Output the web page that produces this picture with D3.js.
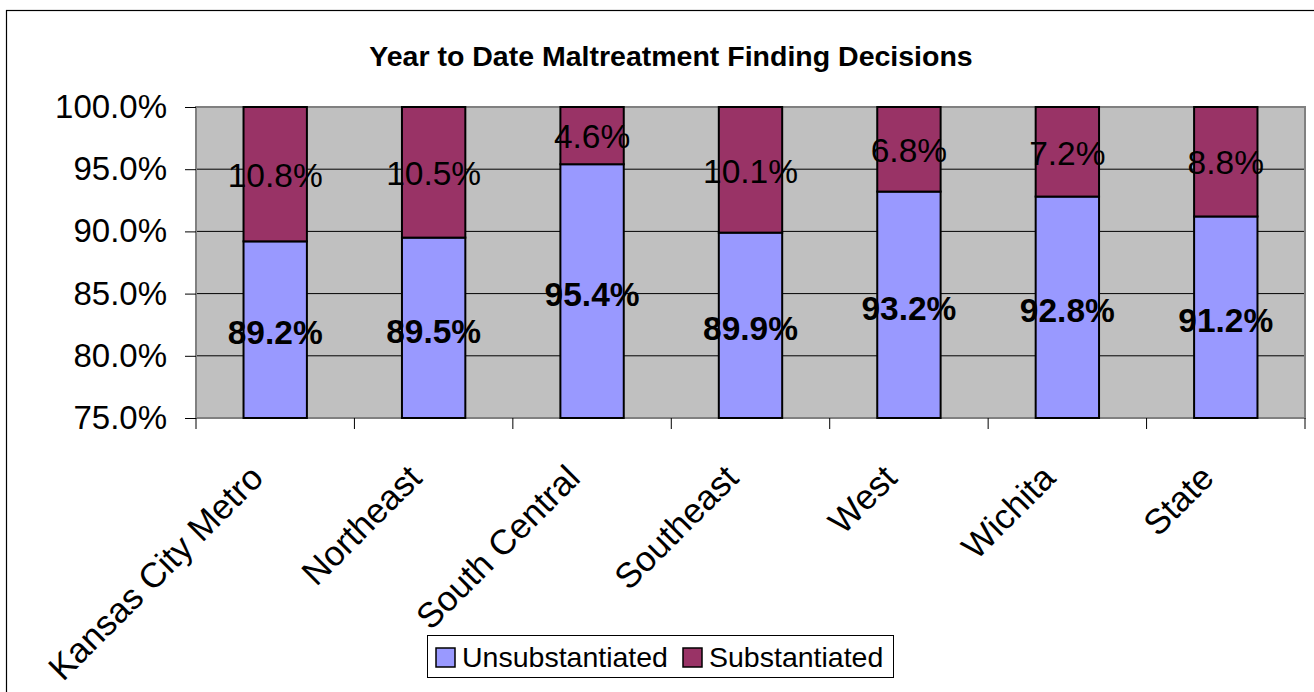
<!DOCTYPE html>
<html>
<head>
<meta charset="utf-8">
<script src="https://cdn.jsdelivr.net/npm/d3@7"></script>
<style>
  body { margin: 0; background: #fff; }
  text { font-family: Arial, "Liberation Sans", sans-serif; }
</style>
</head>
<body>
<div id="chart"></div>
<script>
// regions and the two stacked shares (percent)
var regions = ["Kansas City Metro", "Northeast", "South Central", "Southeast", "West", "Wichita", "State"];
var unsubstantiated = [89.2, 89.5, 95.4, 89.9, 93.2, 92.8, 91.2];
var substantiated = [10.8, 10.5, 4.6, 10.1, 6.8, 7.2, 8.8];
var yTicks = [75, 80, 85, 90, 95, 100];
var seriesNames = ["Unsubstantiated", "Substantiated"];
var seriesColors = ["#9999FF", "#993366"];

var svgWidth = 1314;
var svgHeight = 692;

var plot = { left: 196, right: 1305, top: 107, bottom: 418 };

var svg = d3.select("#chart")
    .append("svg")
    .attr("width", svgWidth)
    .attr("height", svgHeight);

// chart area border
svg.append("rect")
    .attr("x", 6.5)
    .attr("y", 10.5)
    .attr("width", 1330)
    .attr("height", 700)
    .attr("fill", "#fff")
    .attr("stroke", "#000")
    .attr("stroke-width", 1.2);

var rows = regions.map(function (r, i) {
    return { region: r, unsub: unsubstantiated[i], sub: substantiated[i] };
});

var xscale = d3.scaleBand()
    .domain(regions)
    .range([plot.left, plot.right])
    .paddingInner(0.6)
    .paddingOuter(0.3);

var yscale = d3.scaleLinear()
    .domain([75, 100])
    .range([plot.bottom, plot.top]);

// plot background
svg.append("rect")
    .attr("x", plot.left)
    .attr("y", plot.top)
    .attr("width", plot.right - plot.left)
    .attr("height", plot.bottom - plot.top)
    .attr("fill", "#C0C0C0");

// gridlines
svg.append("g")
    .selectAll("line")
    .data(yTicks)
    .enter()
    .append("line")
    .attr("x1", plot.left)
    .attr("x2", plot.right)
    .attr("y1", d => yscale(d))
    .attr("y2", d => yscale(d))
    .attr("stroke", "#000")
    .attr("stroke-width", 1);

// plot border
svg.append("rect")
    .attr("x", plot.left)
    .attr("y", plot.top)
    .attr("width", plot.right - plot.left)
    .attr("height", plot.bottom - plot.top)
    .attr("fill", "none")
    .attr("stroke", "#808080")
    .attr("stroke-width", 2);

// y axis
var yAxis = d3.axisLeft(yscale)
    .tickValues(yTicks)
    .tickSize(11)
    .tickPadding(18)
    .tickFormat(d => d.toFixed(1) + "%");

var yg = svg.append("g")
    .attr("transform", `translate(${plot.left}, 0)`)
    .call(yAxis);
yg.select(".domain").remove();
yg.selectAll("line").attr("stroke", "#000");
yg.selectAll("text")
    .style("font-size", "33px")
    .attr("fill", "#000");

// category boundary ticks on the x axis
var bounds = d3.range(regions.length + 1).map(i => plot.left + i * xscale.step());
svg.append("g")
    .selectAll("line")
    .data(bounds)
    .enter()
    .append("line")
    .attr("x1", d => d)
    .attr("x2", d => d)
    .attr("y1", plot.bottom)
    .attr("y2", plot.bottom + 11)
    .attr("stroke", "#000");

// stacked bars
var bars = svg.append("g");
bars.selectAll("rect.unsub")
    .data(rows)
    .enter()
    .append("rect")
    .attr("class", "unsub")
    .attr("x", d => xscale(d.region))
    .attr("width", xscale.bandwidth())
    .attr("y", d => yscale(d.unsub))
    .attr("height", d => yscale(75) - yscale(d.unsub))
    .attr("fill", seriesColors[0])
    .attr("stroke", "#000")
    .attr("stroke-width", 2);

bars.selectAll("rect.sub")
    .data(rows)
    .enter()
    .append("rect")
    .attr("class", "sub")
    .attr("x", d => xscale(d.region))
    .attr("width", xscale.bandwidth())
    .attr("y", d => yscale(d.unsub + d.sub))
    .attr("height", d => yscale(d.unsub) - yscale(d.unsub + d.sub))
    .attr("fill", seriesColors[1])
    .attr("stroke", "#000")
    .attr("stroke-width", 2);

// value labels
var labels = svg.append("g");
labels.selectAll("text.unsub")
    .data(rows)
    .enter()
    .append("text")
    .attr("x", d => xscale(d.region) + xscale.bandwidth() / 2)
    .attr("y", d => yscale((75 + d.unsub) / 2) + 3)
    .attr("dy", "0.35em")
    .attr("text-anchor", "middle")
    .style("font-size", "33.5px")
    .style("font-weight", "bold")
    .text(d => d.unsub.toFixed(1) + "%");

labels.selectAll("text.sub")
    .data(rows)
    .enter()
    .append("text")
    .attr("x", d => xscale(d.region) + xscale.bandwidth() / 2)
    .attr("y", d => yscale(d.unsub + d.sub / 2) + 1)
    .attr("dy", "0.35em")
    .attr("text-anchor", "middle")
    .style("font-size", "33.5px")
    .text(d => d.sub.toFixed(1) + "%");

// rotated category labels
svg.append("g")
    .selectAll("text")
    .data(regions)
    .enter()
    .append("text")
    .attr("text-anchor", "end")
    .attr("transform", d => `translate(${xscale(d) + xscale.bandwidth() / 2 - 10}, 480) rotate(-45)`)
    .style("font-size", "35px")
    .text(d => d);

// title
svg.append("text")
    .attr("x", 671)
    .attr("y", 66)
    .attr("text-anchor", "middle")
    .style("font-size", "28.5px")
    .style("font-weight", "bold")
    .text("Year to Date Maltreatment Finding Decisions");

// legend
var legend = svg.append("g");
legend.append("rect")
    .attr("x", 427.5)
    .attr("y", 635.5)
    .attr("width", 466)
    .attr("height", 42)
    .attr("fill", "#fff")
    .attr("stroke", "#000");

var legendX = [436, 683];
var items = legend.selectAll("g.item")
    .data(seriesNames)
    .enter()
    .append("g")
    .attr("transform", (d, i) => `translate(${legendX[i]}, 648)`);

items.append("rect")
    .attr("width", 19)
    .attr("height", 19)
    .attr("fill", (d, i) => seriesColors[i])
    .attr("stroke", "#000")
    .attr("stroke-width", 1.5);

items.append("text")
    .attr("x", 26)
    .attr("y", 19)
    .style("font-size", "28.5px")
    .text(d => d);
</script>
</body>
</html>
